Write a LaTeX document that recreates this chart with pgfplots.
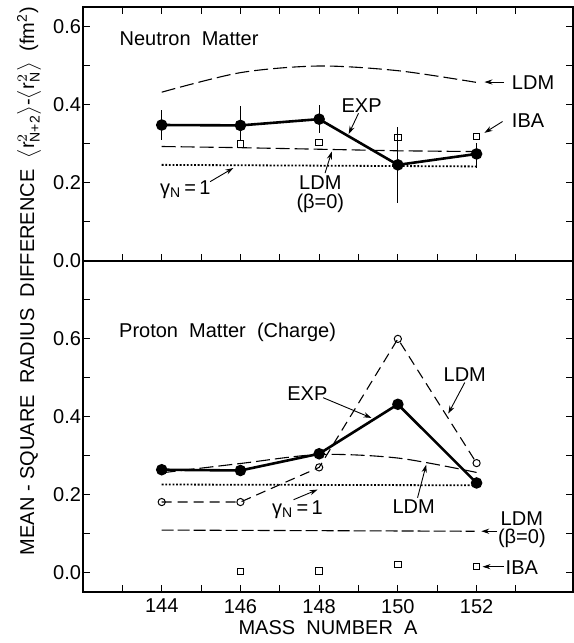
\documentclass[border=0pt]{standalone}
\usepackage{fontspec}
\setmainfont{Liberation Sans}
\usepackage{amsmath}
\usepackage{pgfplots}
\pgfplotsset{compat=1.18}
\usetikzlibrary{calc,arrows.meta}

\tikzset{ann/.style={-{Stealth[length=4pt,width=2.6pt]}, line width=0.45pt}}
\pgfplotsset{
  panel/.style={
    scale only axis, width=245pt,
    xmin=142, xmax=154.45,
    xtick={144,146,...,152}, minor xtick={143,145,...,153},
    tick align=inside, major tick length=3.5pt, minor tick length=3.5pt,
    ytick={0,0.2,0.4,0.6},
    yticklabel style={xshift=2.5pt, /pgf/number format/.cd, fixed, fixed zerofill, precision=1},
    /pgf/number format/assume math mode=true,
    axis line style={line width=0.6pt},
    every tick/.style={black, line width=0.5pt},
    yticklabel pos=left,
  },
  exp/.style={black, line width=1.3pt, mark=*, mark size=2.2pt, mark options={solid}},
  ldm/.style={black, line width=0.55pt, dash pattern=on 7pt off 2.5pt},
  dots/.style={black, line width=0.9pt, dash pattern=on 0.9pt off 0.9pt},
  iba/.style={black, only marks, mark=square, mark size=1.6pt, mark options={solid, line width=0.5pt}},
}

\begin{document}
\begin{tikzpicture}
% ---------- neutron matter ----------
\begin{axis}[panel, name=top, height=127pt,
    ymin=0, ymax=0.65, minor ytick={0.1,0.3,0.5},
    xticklabels={}]
\addplot[ldm, smooth] coordinates {(144,0.432) (146,0.482) (148,0.499) (150,0.487) (152,0.457)};
\addplot[ldm] coordinates {(144,0.293) (146,0.290) (148,0.286) (150,0.282) (152,0.280)};
\addplot[dots] coordinates {(144,0.246) (152,0.242)};
\addplot[iba] coordinates {(146,0.299) (148,0.303) (150,0.316) (152,0.319)};
\addplot[exp, error bars/.cd, y dir=both, y explicit, error mark=none,
    error bar style={line width=0.5pt, solid}] coordinates {
  (144,0.348) += (0,0.039) -= (0,0.038)
  (146,0.347) += (0,0.050) -= (0,0.039)
  (148,0.363) += (0,0.037) -= (0,0.035)
  (150,0.246) += (0,0.097) -= (0,0.098)
  (152,0.274) += (0,0.028) -= (0,0.036)
};
\node[anchor=west] at (axis cs:142.75,0.57) {Neutron\ \ Matter};
\node[anchor=west] at (axis cs:152.72,0.456) {LDM};
\draw[ann] (axis cs:152.7,0.458) -- (axis cs:152.2,0.458);
\node at (axis cs:149.08,0.397) {EXP};
\draw[ann] (axis cs:149.0,0.378) -- (axis cs:148.75,0.325);
\node[anchor=west] at (axis cs:152.72,0.36) {IBA};
\draw[ann] (axis cs:152.66,0.357) -- (axis cs:152.2,0.328);
\node at (axis cs:148.03,0.2) {LDM};
\node at (axis cs:148.03,0.148) {(β=0)};
\draw[ann] (axis cs:148.15,0.225) -- (axis cs:148.32,0.28);
\node at (axis cs:144.6,0.182) {γ\textsubscript{N}\,=\,1};
\draw[ann] (axis cs:145.23,0.203) -- (axis cs:145.82,0.238);
\end{axis}
% ---------- proton matter ----------
\begin{axis}[panel, name=bot, height=165.5pt,
    at={(top.south west)}, anchor=north west,
    ymin=-0.05, ymax=0.8, minor ytick={0.1,0.3,0.5,0.7},
    xtick pos=left,
    xlabel={MASS\ \ NUMBER\ \ A},
    xlabel style={yshift=3pt}]
\addplot[ldm, dash pattern=on 6pt off 2pt] coordinates {(144,0.109) (151.95,0.106)};
\addplot[ldm, smooth] coordinates {(144,0.256) (146,0.280) (148,0.303) (150,0.294) (152,0.257)};
\addplot[ldm, dash pattern=on 5pt off 3pt, mark=o, mark size=1.8pt,
    mark options={solid, fill=white, line width=0.5pt}] coordinates {
  (144,0.181) (146,0.181) (148,0.270) (150,0.600) (152,0.281)};
\addplot[dots] coordinates {(144,0.226) (152,0.224)};
\addplot[iba] coordinates {(146,0.002) (148,0.004) (150,0.020) (152,0.016)};
\addplot[exp] coordinates {(144,0.264) (146,0.262) (148,0.305) (150,0.432) (152,0.230)};
\node[anchor=west] at (axis cs:142.74,0.618) {Proton\ \ Matter\ \ (Charge)};
\node at (axis cs:147.7,0.46) {EXP};
\draw[ann] (axis cs:148.1,0.449) -- (axis cs:149.33,0.397);
\node at (axis cs:151.7,0.508) {LDM};
\draw[ann] (axis cs:151.7,0.488) -- (axis cs:151.28,0.408);
\node at (axis cs:150.4,0.169) {LDM};
\draw[ann] (axis cs:150.5,0.192) -- (axis cs:150.72,0.277);
\node at (axis cs:147.45,0.162) {γ\textsubscript{N}\,=\,1};
\draw[ann] (axis cs:147.35,0.187) -- (axis cs:147.96,0.213);
\node at (axis cs:153.15,0.138) {LDM};
\node at (axis cs:153.15,0.087) {(β=0)};
\draw[ann] (axis cs:152.53,0.106) -- (axis cs:152.12,0.106);
\node at (axis cs:153.15,0.013) {IBA};
\draw[ann] (axis cs:152.69,0.015) -- (axis cs:152.15,0.015);
\end{axis}
\node[rotate=90] at ($(top.south west)+(-27pt,-10pt)$)
  {MEAN - SQUARE\ \ RADIUS\ \ DIFFERENCE\ \ $\big\langle\text{r}^{2}_{\text{N+2}}\big\rangle\text{-}\big\langle\text{r}^{2}_{\text{N}}\big\rangle$\ \ (fm\textsuperscript{2})};
\pgfresetboundingbox
\path[use as bounding box] ($(top.north west)+(-41.5pt,3.5pt)$) rectangle ($(bot.south east)+(0pt,-25.5pt)$);
\end{tikzpicture}
\end{document}
